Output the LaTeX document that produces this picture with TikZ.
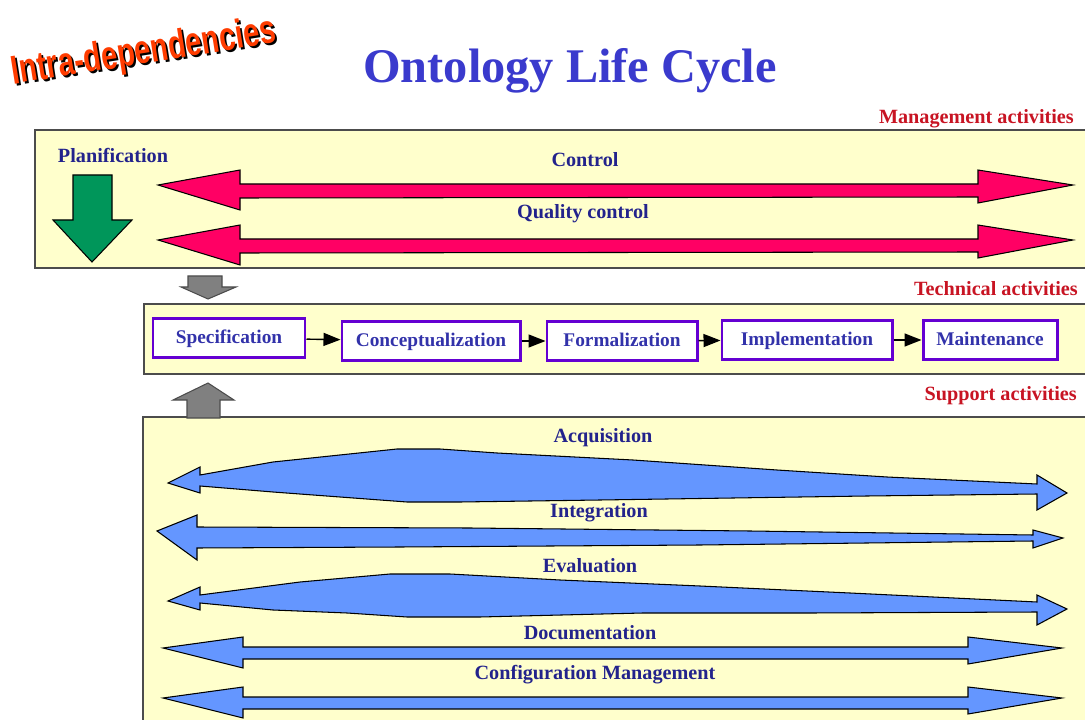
\documentclass[tikz,border=0pt]{standalone}
\usepackage{fontspec}
\setmainfont{Liberation Serif}
\newfontfamily\stampfont[FakeStretch=0.72]{Liberation Sans}
\usetikzlibrary{arrows.meta}
\usepackage{xcolor}
\definecolor{paleyellow}{RGB}{255,255,204}
\definecolor{titleblue}{RGB}{58,58,205}
\definecolor{textblue}{RGB}{35,35,140}
\definecolor{stageblue}{RGB}{50,50,170}
\definecolor{stagepurple}{RGB}{100,0,210}
\definecolor{groupred}{RGB}{200,20,35}
\definecolor{arrowpink}{RGB}{255,0,100}
\definecolor{arrowblue}{RGB}{100,150,255}
\definecolor{plangreen}{RGB}{0,150,90}
\definecolor{stamporange}{RGB}{255,60,0}

\begin{document}
\begin{tikzpicture}
    \tikzset{
        x={(0.2mm,0mm)},
        y={(0mm,-0.2mm)},
        panel/.style={fill=paleyellow,draw=black!70,line width=0.8pt},
        stage/.style={draw=stagepurple,line width=1.7pt,fill=white,inner sep=0pt,
            minimum height=7.8mm,text height=1.55ex,text depth=0.3ex,text=stageblue,
            font=\bfseries\fontsize{11}{12}\selectfont},
        acttext/.style={text=textblue,font=\bfseries\fontsize{11.5}{13}\selectfont},
        grouptext/.style={text=groupred,anchor=east,font=\bfseries\fontsize{11.5}{13}\selectfont},
        mgmtarrow/.style={fill=arrowpink,draw=black,line width=0.6pt},
        supparrow/.style={fill=arrowblue,draw=black,line width=0.6pt},
        grayarrow/.style={fill=black!50,draw=black!70,line width=0.6pt},
        flow/.style={-{Triangle[length=3.4mm,width=2.6mm]},line width=0.8pt}
    }
    \clip (0,0) rectangle (1085,720);
    \fill[white] (0,0) rectangle (1085,720);
    % title
    \node[text=titleblue,font=\bfseries\fontsize{27.5}{30}\selectfont] (title) at (570,71) {Ontology Life Cycle};
    \node[rotate=9,font=\stampfont\bfseries\fontsize{23}{25}\selectfont,text=black] (stampshadow) at (146,55) {Intra-dependencies};
    \node[rotate=9,font=\stampfont\bfseries\fontsize{23}{25}\selectfont,text=stamporange] (stamp) at (144,53) {Intra-dependencies};
    % management activities
    \draw[panel] (35,130) rectangle (1095,268);
    \node[grouptext] (mgmt) at (1080,119) {Management activities};
    \node[acttext] (plan) at (113,155) {Planification};
    \filldraw[fill=plangreen,draw=black,line width=0.6pt] (73,175) -- (112,175) -- (112,220) -- (132,220)
        -- (92,262) -- (53,220) -- (73,220) -- cycle;
    \foreach \y in {190,245}
        \filldraw[mgmtarrow] (158,\y-5) -- (240,\y-20) -- (240,\y-6) -- (978,\y-6) -- (978,\y-20)
            -- (1073,\y-5) -- (978,\y+13) -- (978,\y+7) -- (240,\y+8) -- (240,\y+20) -- cycle;
    \node[acttext] (control) at (585,160) {Control};
    \node[acttext] (quality) at (583,214) {Quality control};
    % technical activities
    \filldraw[grayarrow] (188,276) -- (222,276) -- (222,287) -- (236,287) -- (208,299) -- (181,287) -- (188,287) -- cycle;
    \node[grouptext] (tech) at (1084,289) {Technical activities};
    \draw[panel] (144,304) rectangle (1095,374);
    \node[stage,minimum width=30.4mm] (spec) at (229,338) {Specification};
    \node[stage,minimum width=35.6mm] (concept) at (431,341) {Conceptualization};
    \node[stage,minimum width=30mm] (formal) at (622,341) {Formalization};
    \node[stage,minimum width=34mm] (impl) at (807,340) {Implementation};
    \node[stage,minimum width=26.8mm] (maint) at (990,340) {Maintenance};
    \draw[flow] (spec) -- (concept);
    \draw[flow] (concept) -- (formal);
    \draw[flow] (formal) -- (impl);
    \draw[flow] (impl) -- (maint);
    % support activities
    \node[grouptext] (supp) at (1083,396) {Support activities};
    \draw[panel] (143,417) rectangle (1095,740);
    \filldraw[grayarrow] (187,418) -- (187,400) -- (173,400) -- (208,383) -- (234,400) -- (220,400) -- (220,418) -- cycle;
    % acquisition
    \filldraw[supparrow] (168,483) -- (200,467) -- (200,475) -- (273,462) -- (397,449) -- (440,449) -- (497,453)
        -- (633,460) -- (777,470) -- (887,477) -- (1037,484) -- (1037,475) -- (1067,493) -- (1037,510)
        -- (1037,494) -- (867,496) -- (733,498) -- (600,500) -- (460,502) -- (407,502) -- (273,492)
        -- (200,486) -- (200,493) -- cycle;
    \node[acttext] (acq) at (603,438) {Acquisition};
    % integration
    \filldraw[supparrow] (157,531) -- (197,515) -- (197,527) -- (470,528) -- (750,531) -- (1033,535)
        -- (1033,530) -- (1063,538) -- (1033,548) -- (1033,541) -- (700,545) -- (400,547) -- (197,548)
        -- (197,560) -- cycle;
    \node[acttext] (integ) at (599,513) {Integration};
    % evaluation
    \filldraw[supparrow] (168,601) -- (200,587) -- (200,595) -- (300,582) -- (390,574) -- (450,574)
        -- (560,580) -- (700,586) -- (850,593) -- (1037,602) -- (1037,595) -- (1067,609) -- (1037,625)
        -- (1037,612) -- (810,613) -- (643,613) -- (480,617) -- (407,617) -- (347,613) -- (273,610)
        -- (200,603) -- (200,610) -- cycle;
    \node[acttext] (evalu) at (590,566) {Evaluation};
    % documentation and configuration
    \foreach \y in {652,702}
        \filldraw[supparrow] (163,\y-4) -- (243,\y-15) -- (243,\y-5) -- (968,\y-5) -- (968,\y-15)
            -- (1062,\y-4) -- (968,\y+12) -- (968,\y+7) -- (243,\y+7) -- (243,\y+16) -- cycle;
    \node[acttext] (doc) at (590,633) {Documentation};
    \node[acttext] (config) at (595,675) {Configuration Management};
\end{tikzpicture}
\end{document}
